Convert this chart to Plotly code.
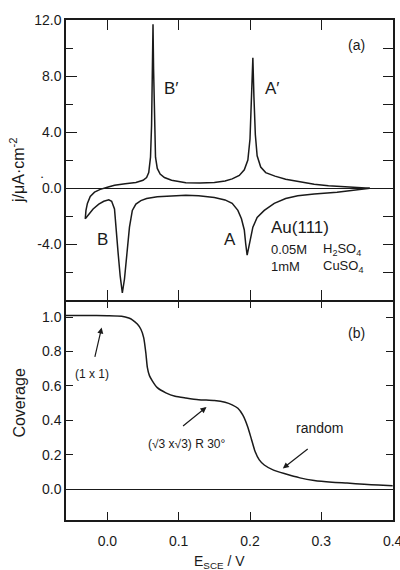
import plotly.graph_objects as go

# ---- data ----
cv_up_e = [-0.031, -0.030, -0.028, -0.024, -0.018, -0.010, 0.000, 0.010, 0.025, 0.040, 0.050, 0.055,
           0.058, 0.0605, 0.062, 0.0633, 0.064, 0.0648, 0.066, 0.0675, 0.070, 0.074, 0.080, 0.090,
           0.110, 0.130, 0.150, 0.165, 0.175, 0.185, 0.192, 0.197, 0.200, 0.2025, 0.204, 0.2055,
           0.2075, 0.210, 0.215, 0.222, 0.235, 0.250, 0.270, 0.290, 0.310, 0.330, 0.350, 0.368]
cv_up_j = [-2.2, -1.6, -1.1, -0.6, -0.3, -0.1, 0.05, 0.2, 0.3, 0.4, 0.55, 0.75,
           1.1, 2.2, 4.5, 8.5, 11.7, 8.5, 4.5, 2.2, 1.4, 1.0, 0.75, 0.55,
           0.38, 0.35, 0.4, 0.5, 0.65, 0.9, 1.3, 2.0, 3.5, 6.5, 9.3, 6.5,
           3.8, 2.3, 1.5, 1.1, 0.85, 0.62, 0.42, 0.27, 0.16, 0.08, 0.02, -0.02]

cv_down_e = [0.368, 0.350, 0.322, 0.290, 0.267, 0.250, 0.234, 0.220, 0.210, 0.204, 0.200, 0.197,
             0.196, 0.194, 0.192, 0.188, 0.183, 0.175, 0.165, 0.150, 0.128, 0.110, 0.090, 0.070,
             0.055, 0.047, 0.040, 0.035, 0.031, 0.028, 0.024, 0.021, 0.018, 0.015, 0.012, 0.010,
             0.006, 0.002, -0.005, -0.012, -0.020, -0.026, -0.031]
cv_down_j = [-0.02, -0.12, -0.3, -0.42, -0.55, -0.75, -1.1, -1.6, -2.1, -2.8, -3.7, -4.6,
             -4.8, -4.0, -3.0, -2.2, -1.6, -1.1, -0.85, -0.68, -0.55, -0.52, -0.55, -0.62,
             -0.75, -0.9, -1.15, -1.6, -2.8, -4.4, -6.5, -7.5, -6.3, -4.6, -2.8, -1.5,
             -0.95, -0.85, -0.95, -1.15, -1.5, -1.85, -2.2]

cov_e = [-0.058, -0.03, 0.0, 0.02, 0.03, 0.035, 0.042, 0.047, 0.051, 0.054, 0.056, 0.059, 0.063,
         0.07, 0.082, 0.095, 0.11, 0.128, 0.15, 0.165, 0.175, 0.183, 0.19, 0.197, 0.202, 0.207,
         0.213, 0.22, 0.233, 0.248, 0.27, 0.29, 0.315, 0.336, 0.36, 0.38, 0.4]
cov_v = [1.01, 1.01, 1.008, 1.005, 0.995, 0.985, 0.96, 0.93, 0.88, 0.79, 0.71, 0.66, 0.63,
         0.59, 0.56, 0.54, 0.53, 0.52, 0.515, 0.505, 0.49, 0.47, 0.43, 0.36, 0.29, 0.22,
         0.17, 0.14, 0.11, 0.09, 0.065, 0.05, 0.04, 0.035, 0.028, 0.023, 0.02]

x_range = [-0.058, 0.4005]
j_range = [-8, 12]
cov_range = [-0.18, 1.1]
j_major = [-4, 0, 4, 8, 12]
j_minor = [-6, -2, 2, 6, 10]
j_right = [-6, -4, -2, 0, 2, 4, 6, 8, 10]
cov_ticks = [0.0, 0.2, 0.4, 0.6, 0.8, 1.0]
e_ticks = [0.0, 0.1, 0.2, 0.3, 0.4]

FONT = "Liberation Sans"
INK = "#1a1a1a"

fig = go.Figure()
line = dict(color=INK, width=1.5)
fig.add_trace(go.Scatter(x=cv_up_e, y=cv_up_j, mode="lines", line=line, xaxis="x", yaxis="y"))
fig.add_trace(go.Scatter(x=cv_down_e, y=cv_down_j, mode="lines", line=line, xaxis="x", yaxis="y"))
fig.add_trace(go.Scatter(x=cov_e, y=cov_v, mode="lines",
                         line=dict(color=INK, width=1.5, shape="spline", smoothing=0.5),
                         xaxis="x2", yaxis="y2"))
# invisible traces holding the extra tick-only axes
fig.add_trace(go.Scatter(x=[x_range[0]], y=[0], mode="markers", marker=dict(opacity=0),
                         xaxis="x", yaxis="y3", hoverinfo="skip"))
fig.add_trace(go.Scatter(x=[x_range[0]], y=[0], mode="markers", marker=dict(opacity=0),
                         xaxis="x3", yaxis="y2", hoverinfo="skip"))

axis_common = dict(showline=True, linecolor=INK, linewidth=1.5, showgrid=False,
                   ticks="inside", tickcolor=INK, tickwidth=1.2, automargin=False,
                   tickfont=dict(family=FONT, size=14, color=INK))

fig.update_layout(
    width=400, height=570,
    margin=dict(l=66, r=7, t=20, b=50),
    paper_bgcolor="white", plot_bgcolor="white",
    showlegend=False,
    font=dict(family=FONT, color=INK),
    xaxis=dict(axis_common, domain=[0, 1], anchor="y", range=x_range, tickvals=e_ticks[:4],
               ticklen=10, showticklabels=False, mirror="ticks", zeroline=False),
    yaxis=dict(axis_common, domain=[0.44, 1], anchor="x", range=j_range, tickvals=j_major,
               ticktext=[f"{v:.1f}" for v in j_major], ticklen=11, mirror=True,
               minor=dict(tickvals=j_minor, ticks="inside", ticklen=7, tickcolor=INK, tickwidth=1.2),
               zeroline=True, zerolinecolor=INK, zerolinewidth=1.3),
    yaxis3=dict(overlaying="y", side="right", anchor="x", range=j_range, tickvals=j_right,
                ticks="inside", ticklen=10, tickcolor=INK, tickwidth=1.2, showticklabels=False,
                showgrid=False, zeroline=False, showline=False, automargin=False),
    xaxis2=dict(axis_common, domain=[0, 1], anchor="y2", range=x_range, tickvals=e_ticks,
                ticktext=[f"{v:.1f}" for v in e_ticks], ticklen=8, mirror=False,
                ticklabelstandoff=7, ticklabeloverflow="allow", zeroline=False),
    xaxis3=dict(overlaying="x2", side="top", anchor="y2", range=x_range, tickvals=e_ticks[:4],
                ticks="inside", ticklen=8, tickcolor=INK, tickwidth=1.2, showticklabels=False,
                showgrid=False, zeroline=False, showline=False, automargin=False),
    yaxis2=dict(axis_common, domain=[0, 0.44], anchor="x2", range=cov_range, tickvals=cov_ticks,
                ticktext=[f"{v:.1f}" for v in cov_ticks], ticklen=7, mirror="ticks",
                zeroline=True, zerolinecolor=INK, zerolinewidth=1.3),
)

ann = []
def txt(x, y, s, size, xref="x", yref="y", xanchor="center", **kw):
    ann.append(dict(x=x, y=y, xref=xref, yref=yref, text=s, showarrow=False, xanchor=xanchor,
                    yanchor="middle", font=dict(family=FONT, size=size, color=INK), **kw))

# panel (a)
txt(0.35, 10.2, "(a)", 14)
txt(0.090, 7.1, "B′", 17)
txt(0.232, 7.1, "A′", 17)
txt(-0.007, -3.7, "B", 17)
txt(0.172, -3.7, "A", 17)
txt(0.226, -2.85, "Au(111)", 17, xanchor="left")
txt(0.226, -4.4, "0.05M", 13, xanchor="left")
txt(0.300, -4.4, "H<sub>2</sub>SO<sub>4</sub>", 13, xanchor="left")
txt(0.226, -5.6, "1mM", 13, xanchor="left")
txt(0.300, -5.6, "CuSO<sub>4</sub>", 13, xanchor="left")
# panel (b)
txt(0.35, 0.91, "(b)", 14, xref="x2", yref="y2")
txt(-0.022, 0.67, "(1 x 1)", 12, xref="x2", yref="y2")
txt(0.112, 0.26, "(√3 x√3) R 30°", 12, xref="x2", yref="y2")
txt(0.297, 0.355, "random", 14, xref="x2", yref="y2")

def arrow(x0, y0, x1, y1):
    ann.append(dict(x=x1, y=y1, ax=x0, ay=y0, xref="x2", yref="y2", axref="x2", ayref="y2",
                    text="", showarrow=True, arrowhead=2, arrowsize=1.0, arrowwidth=1.2,
                    arrowcolor=INK, standoff=0))
arrow(-0.018, 0.76, -0.008, 0.94)
arrow(0.104, 0.36, 0.139, 0.477)
arrow(0.283, 0.24, 0.246, 0.12)

# axis titles
txt(-0.15, 0.70, "j/μA·cm<sup>-2</sup>", 16, xref="paper", yref="paper", textangle=-90)
txt(-0.145, 0.234, "Coverage", 16, xref="paper", yref="paper", textangle=-90)
txt(0.468, -0.084, "E<sub>SCE</sub> / V", 14, xref="paper", yref="paper")
txt(-0.073, 0.686, "•", 6, xref="paper", yref="paper")

fig.update_layout(annotations=ann)
fig.write_html("out.html")
